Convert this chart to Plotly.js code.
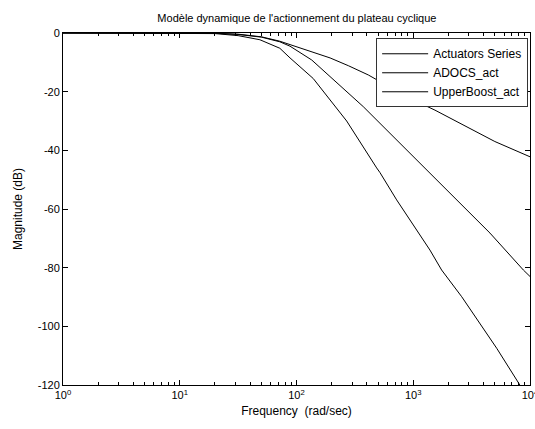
<!DOCTYPE html>
<html>
<head>
<meta charset="utf-8">
<script src="https://cdn.plot.ly/plotly-3.0.1.min.js"></script>
<style>html,body{margin:0;padding:0;background:#fff;}#chart{width:535px;height:429px;}</style>
</head>
<body>
<div id="chart"></div>
<script>
// Frequencies (rad/s) and magnitudes (dB)
var seriesNames = ["Actuators Series", "ADOCS_act", "UpperBoost_act"];

var actFreq = [1, 10, 20, 31.6, 48.6, 72, 88, 139, 159, 194, 269, 486, 519, 721, 1390, 1750, 1932, 2600, 5190, 8200, 10000];
var actMag  = [0, -0.05, -0.2, -0.9, -2.3, -5.2, -8.5, -15.5, -18.5, -23.0, -30.0, -46.0, -47.6, -56.9, -74.0, -80.8, -83.1, -89.9, -107.5, -120.0, -125.5];

var adocsFreq = [1, 10, 20, 31.6, 50, 72, 88, 135, 194, 373, 519, 938, 1932, 4540, 8770, 10000];
var adocsMag  = [0, -0.02, -0.1, -0.5, -1.4, -3.0, -4.5, -9.2, -14.8, -25.1, -30.8, -41.0, -53.5, -68.2, -80.8, -83.0];

var upperFreq = [1, 10, 20, 31.6, 50, 72, 88, 100, 135, 194, 280, 412, 700, 1000, 1535, 2685, 5000, 10000];
var upperMag  = [0, -0.02, -0.1, -0.4, -1.3, -2.8, -4.0, -4.8, -6.5, -8.5, -11.2, -14.3, -19.5, -22.8, -26.3, -31.4, -37.0, -42.2];

var xTickVals = [1, 10, 100, 1000, 10000];
var xTickText = ["10<sup>0</sup>", "10<sup>1</sup>", "10<sup>2</sup>", "10<sup>3</sup>", "10<sup>4</sup>"];
var yTickVals = [-120, -100, -80, -60, -40, -20, 0];
var yTickText = ["-120", "-100", "-80", "-60", "-40", "-20", "0"];

var minorVals = [];
for (var d = 1; d <= 1000; d *= 10) { for (var k = 2; k <= 9; k++) minorVals.push(k * d); }

var lineStyle = {color: "#000", width: 1};
var traces = [
  {x: actFreq, y: actMag, name: seriesNames[0], mode: "lines", line: lineStyle},
  {x: adocsFreq, y: adocsMag, name: seriesNames[1], mode: "lines", line: lineStyle},
  {x: upperFreq, y: upperMag, name: seriesNames[2], mode: "lines", line: lineStyle}
];

var fontFam = "Liberation Sans, Arial, sans-serif";
var layout = {
  width: 535, height: 429,
  margin: {l: 63, r: 5, t: 33, b: 44},
  paper_bgcolor: "#fff", plot_bgcolor: "#fff",
  font: {family: fontFam, size: 11, color: "#000"},
  title: {text: "Modèle dynamique de l'actionnement du plateau cyclique", font: {family: fontFam, size: 11, color: "#000"}, x: 0.555, xanchor: "center", y: 0.958, yanchor: "middle"},
  xaxis: {
    type: "log", range: [0, 4],
    tickvals: xTickVals, ticktext: xTickText,
    ticklabeloverflow: "allow",
    ticks: "inside", ticklen: 5, tickcolor: "#000",
    minor: {tickvals: minorVals, ticks: "inside", ticklen: 3, tickcolor: "#000"},
    showgrid: false, zeroline: false,
    showline: true, linecolor: "#000", linewidth: 1, mirror: "ticks",
    title: {text: "Frequency  (rad/sec)", font: {family: fontFam, size: 12, color: "#000"}, standoff: 6},
    tickfont: {family: fontFam, size: 11, color: "#000"}
  },
  yaxis: {
    range: [-120, 0],
    tickvals: yTickVals, ticktext: yTickText,
    ticks: "inside", ticklen: 5, tickcolor: "#000",
    showgrid: false, zeroline: false,
    showline: true, linecolor: "#000", linewidth: 1, mirror: "ticks",
    title: {text: "Magnitude (dB)", font: {family: fontFam, size: 12, color: "#000"}, standoff: 12},
    tickfont: {family: fontFam, size: 11, color: "#000"}
  },
  showlegend: true,
  legend: {
    x: 0.996, xanchor: "right", y: 0.985, yanchor: "top",
    bgcolor: "#fff", bordercolor: "#333", borderwidth: 1,
    font: {family: fontFam, size: 12, color: "#000"},
    itemwidth: 46,
    tracegroupgap: 0
  }
};

Plotly.newPlot("chart", traces, layout, {displayModeBar: false, staticPlot: true});
</script>
</body>
</html>
